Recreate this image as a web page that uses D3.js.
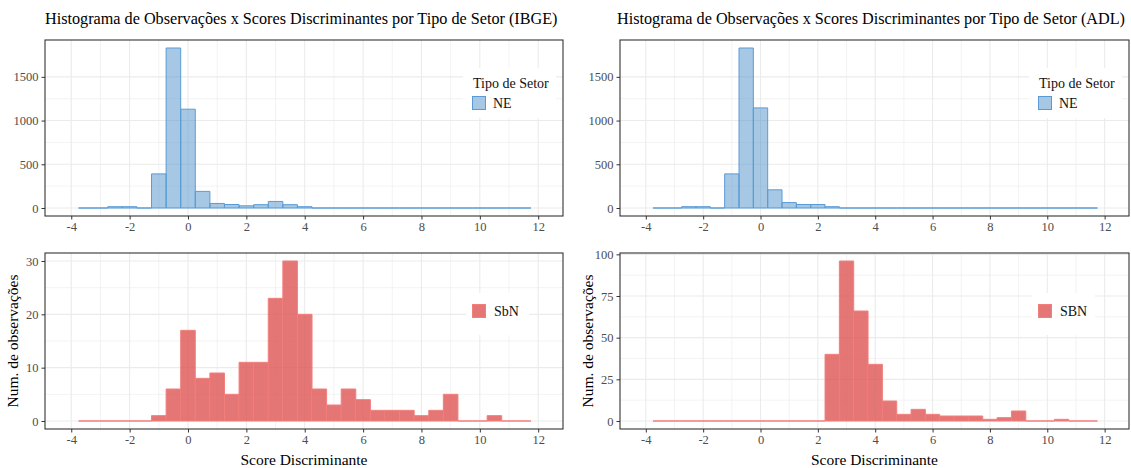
<!DOCTYPE html>
<html>
<head>
<meta charset="utf-8">
<script src="https://cdn.jsdelivr.net/npm/d3@7"></script>
<style>
  html, body { margin: 0; padding: 0; background: #ffffff; }
  svg, svg text { font-family: "Liberation Serif", "Times New Roman", serif; }
  svg { display: block; }
</style>
</head>
<body>
<svg id="chart" width="1131" height="468"></svg>
<script>
// Histogram bin centres (bin width 0.5)
const binCenters = [-3.5, -3, -2.5, -2, -1.5, -1, -0.5, 0, 0.5, 1, 1.5, 2, 2.5, 3, 3.5, 4,
                    4.5, 5, 5.5, 6, 6.5, 7, 7.5, 8, 8.5, 9, 9.5, 10, 10.5, 11, 11.5];
const binWidth = 0.5;

// Counts per bin
const countsNE_IBGE = [0, 0, 15, 15, 0, 390, 1830, 1130, 190, 52, 40, 25, 38, 75, 38, 15,
                       0, 0, 0, 0, 0, 0, 0, 0, 0, 0, 0, 0, 0, 0, 0];
const countsNE_ADL  = [0, 0, 15, 15, 0, 390, 1830, 1145, 208, 62, 40, 40, 15, 0, 0, 0,
                       0, 0, 0, 0, 0, 0, 0, 0, 0, 0, 0, 0, 0, 0, 0];
const countsSbN_IBGE = [0, 0, 0, 0, 0, 1, 6, 17, 8, 9, 5, 11, 11, 23, 30, 20,
                        6, 3, 6, 4, 2, 2, 2, 1, 2, 5, 0, 0, 1, 0, 0];
const countsSBN_ADL  = [0, 0, 0, 0, 0, 0, 0, 0, 0, 0, 0, 0, 40, 96, 66, 34,
                        12, 4, 7, 4, 3, 3, 3, 1, 2, 6, 0, 0, 1, 0, 0];

// Axis breaks
const xTicks = [-4, -2, 0, 2, 4, 6, 8, 10, 12];
const yTicksNE = [0, 500, 1000, 1500];
const yTicksSbN_IBGE = [0, 10, 20, 30];
const yTicksSBN_ADL = [0, 25, 50, 75, 100];

const titles = [
  "Histograma de Observações x Scores Discriminantes por Tipo de Setor (IBGE)",
  "Histograma de Observações x Scores Discriminantes por Tipo de Setor (ADL)"
];
const legendTitle = "Tipo de Setor";
const xTitle = "Score Discriminante";
const yTitle = "Num. de observações";

const blue = { fill: "rgba(77,145,201,0.5)", stroke: "#5B9BD5" };
const red  = { fill: "rgba(222,84,84,0.8)", stroke: "#F27F7C" };

const svg = d3.select("#chart");
const TICK = "#4D4D4D", DARK = "#333333", GRID = "#EBEBEB";
const SERIF = "'Liberation Serif', 'Times New Roman', serif";

function minorBetween(ticks) {
  const out = [];
  for (let i = 0; i < ticks.length - 1; i++) out.push((ticks[i] + ticks[i + 1]) / 2);
  return out;
}

// plain hyphen for negatives, no thousands separator
const tickFmt = v => String(v);

function panel(opt) {
  const { x0, x1, y0, y1, counts, yTicks, colors, legendLabel } = opt;
  const g = svg.append("g");

  const x = d3.scaleLinear().domain([-4.9, 12.85]).range([x0, x1]);
  const ymax = d3.max(counts);
  const y = d3.scaleLinear().domain([-ymax * 0.05, ymax * 1.05]).range([y1, y0]);

  // grid
  const grid = g.append("g");
  minorBetween(xTicks).forEach(v => grid.append("line")
    .attr("x1", x(v)).attr("x2", x(v)).attr("y1", y0).attr("y2", y1)
    .attr("stroke", GRID).attr("stroke-width", 0.6));
  minorBetween(yTicks).forEach(v => grid.append("line")
    .attr("x1", x0).attr("x2", x1).attr("y1", y(v)).attr("y2", y(v))
    .attr("stroke", GRID).attr("stroke-width", 0.6));
  xTicks.forEach(v => grid.append("line")
    .attr("x1", x(v)).attr("x2", x(v)).attr("y1", y0).attr("y2", y1)
    .attr("stroke", GRID).attr("stroke-width", 1.1));
  yTicks.forEach(v => grid.append("line")
    .attr("x1", x0).attr("x2", x1).attr("y1", y(v)).attr("y2", y(v))
    .attr("stroke", GRID).attr("stroke-width", 1.1));

  // bars (zero-count bins leave a flat outline on the baseline)
  g.append("g").selectAll("path").data(binCenters.map((c, i) => ({ c, n: counts[i] })))
    .join("path")
    .attr("d", d => {
      const a = x(d.c - binWidth / 2), b = x(d.c + binWidth / 2);
      const t = y(d.n), z = y(0);
      return `M${a},${z}L${a},${t}L${b},${t}L${b},${z}Z`;
    })
    .attr("fill", colors.fill)
    .attr("stroke", colors.stroke)
    .attr("stroke-width", 1);

  // legend
  const lg = g.append("g");
  if (legendLabel.title) {
    lg.append("rect").attr("x", x1 - 100).attr("y", y0 + 28).attr("width", 93).attr("height", 50).attr("fill", "#fff");
    lg.append("text").attr("x", x1 - 90).attr("y", y0 + 48).text(legendLabel.title)
      .attr("font-size", 14).attr("fill", "#111");
    lg.append("rect").attr("x", x1 - 90.5).attr("y", y0 + 56.5).attr("width", 13).attr("height", 13)
      .attr("fill", colors.fill).attr("stroke", colors.stroke).attr("stroke-width", 1);
    lg.append("text").attr("x", x1 - 70).attr("y", y0 + 68).text(legendLabel.name)
      .attr("font-size", 14).attr("fill", "#111");
  } else {
    lg.append("rect").attr("x", x1 - 97).attr("y", y0 + 40).attr("width", 63).attr("height", 42).attr("fill", "#fff");
    lg.append("rect").attr("x", x1 - 90.5).attr("y", y0 + 51.5).attr("width", 13).attr("height", 13)
      .attr("fill", colors.fill).attr("stroke", colors.stroke).attr("stroke-width", 1);
    lg.append("text").attr("x", x1 - 69).attr("y", y0 + 63).text(legendLabel.name)
      .attr("font-size", 14).attr("fill", "#111");
  }

  // panel border
  g.append("rect").attr("x", x0).attr("y", y0).attr("width", x1 - x0).attr("height", y1 - y0)
    .attr("fill", "none").attr("stroke", DARK).attr("stroke-width", 1.1);

  // axes
  const xa = g.append("g").attr("transform", `translate(0,${y1})`)
    .call(d3.axisBottom(x).tickValues(xTicks).tickFormat(tickFmt).tickSize(3.5).tickPadding(3));
  const ya = g.append("g").attr("transform", `translate(${x0},0)`)
    .call(d3.axisLeft(y).tickValues(yTicks).tickFormat(tickFmt).tickSize(3.5).tickPadding(3));
  [xa, ya].forEach(a => {
    a.attr("font-family", SERIF).attr("font-size", 12.5);
    a.select(".domain").remove();
    a.selectAll(".tick line").attr("stroke", DARK).attr("stroke-width", 1);
    a.selectAll(".tick text").attr("fill", TICK);
  });

  if (opt.title) {
    g.append("text").attr("x", opt.titleX).attr("y", 24).text(opt.title)
      .attr("font-size", 16.2).attr("fill", "#000");
  }
  if (opt.axisTitles) {
    g.append("text").attr("x", (x0 + x1) / 2).attr("y", 465).attr("text-anchor", "middle")
      .text(xTitle).attr("font-size", 15.5).attr("fill", "#000");
    g.append("text").attr("transform", `translate(${x0 - 27},${(y0 + y1) / 2}) rotate(-90)`)
      .attr("text-anchor", "middle").text(yTitle).attr("font-size", 15.5).attr("fill", "#000");
  }
}

const leftX = [45, 563], rightX = [620, 1129];
const topY = [40, 216], botY = [253, 429];

panel({ x0: leftX[0], x1: leftX[1], y0: topY[0], y1: topY[1], counts: countsNE_IBGE, titleX: 45,
        yTicks: yTicksNE, colors: blue, legendLabel: { title: legendTitle, name: "NE" }, title: titles[0] });
panel({ x0: rightX[0], x1: rightX[1], y0: topY[0], y1: topY[1], counts: countsNE_ADL, titleX: 617,
        yTicks: yTicksNE, colors: blue, legendLabel: { title: legendTitle, name: "NE" }, title: titles[1] });
panel({ x0: leftX[0], x1: leftX[1], y0: botY[0], y1: botY[1], counts: countsSbN_IBGE,
        yTicks: yTicksSbN_IBGE, colors: red, legendLabel: { name: "SbN" }, axisTitles: true });
panel({ x0: rightX[0], x1: rightX[1], y0: botY[0], y1: botY[1], counts: countsSBN_ADL,
        yTicks: yTicksSBN_ADL, colors: red, legendLabel: { name: "SBN" }, axisTitles: true });
</script>
</body>
</html>
